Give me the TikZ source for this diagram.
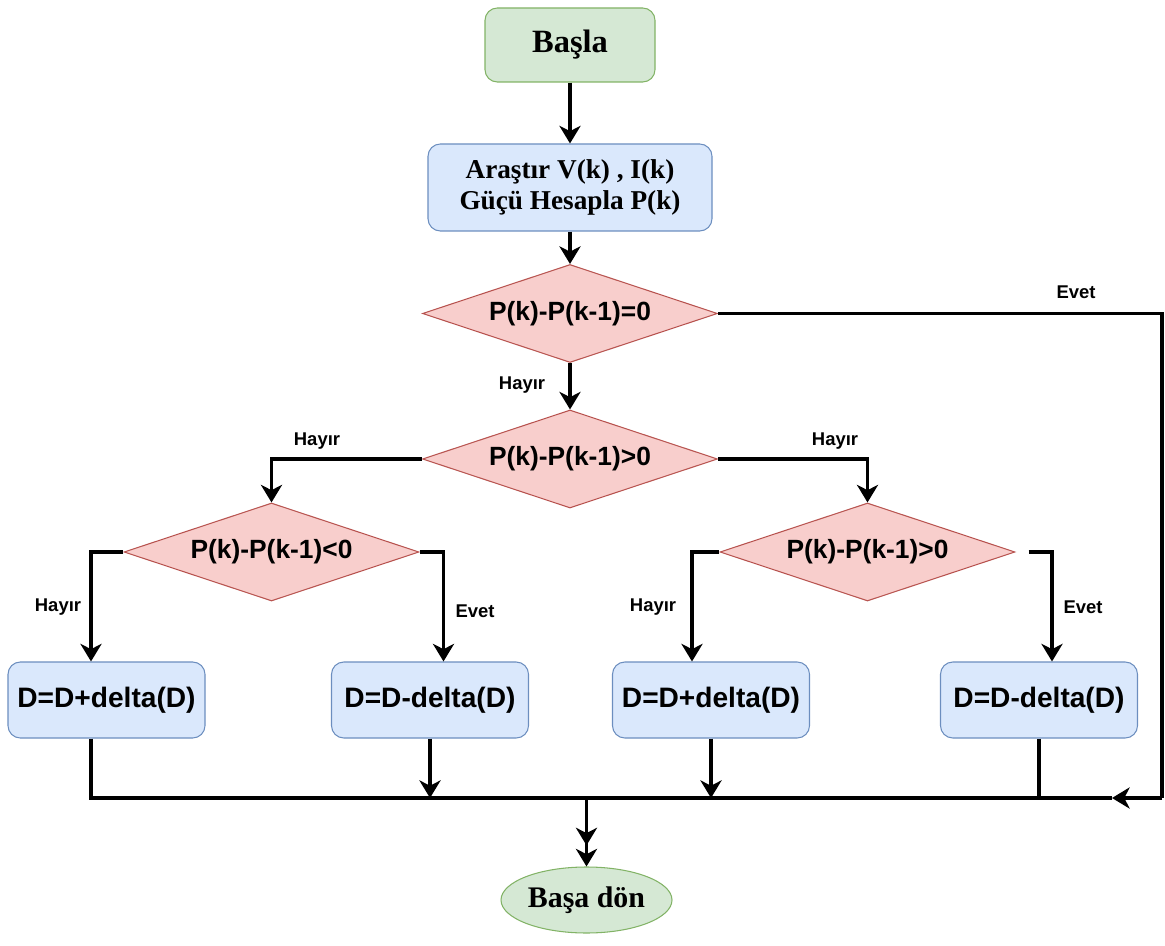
\documentclass[tikz,border=0pt]{standalone}
\usepackage{fontspec}
\setmainfont{Liberation Serif}
\setsansfont{Liberation Sans}
\usetikzlibrary{positioning, shapes.geometric, arrows.meta, calc}
\definecolor{flowGreen}{HTML}{82B366}
\definecolor{flowGreenSoft}{HTML}{D5E8D4}
\definecolor{flowBlue}{HTML}{6C8EBF}
\definecolor{flowBlueSoft}{HTML}{DAE8FC}
\definecolor{flowRed}{HTML}{B85450}
\definecolor{flowRedSoft}{HTML}{F8CECC}

\begin{document}
\begin{tikzpicture}[
    startBox/.style={draw=flowGreen, line width=0.6pt, rectangle, rounded corners=7pt, fill=flowGreenSoft, align=center, font=\bfseries\fontsize{18.5}{21}\selectfont, minimum width=3.4cm, minimum height=1.48cm},
    endOval/.style={draw=flowGreen, line width=0.6pt, ellipse, fill=flowGreenSoft, align=center, font=\bfseries\fontsize{17}{20}\selectfont, minimum width=3.42cm, minimum height=1.32cm, inner sep=0pt},
    calcBox/.style={draw=flowBlue, line width=0.6pt, rectangle, rounded corners=7pt, fill=flowBlueSoft, align=center, font=\bfseries\fontsize{15.5}{18}\selectfont, minimum width=5.68cm, minimum height=1.74cm},
    stepBox/.style={draw=flowBlue, line width=0.6pt, rectangle, rounded corners=7pt, fill=flowBlueSoft, align=center, font=\sffamily\bfseries\fontsize{16}{18}\selectfont, minimum width=3.94cm, minimum height=1.52cm},
    testDiamond/.style={draw=flowRed, line width=0.6pt, diamond, aspect=3, inner sep=0pt, fill=flowRedSoft, align=center, font=\sffamily\bfseries\fontsize{15}{18}\selectfont, minimum width=5.9cm, minimum height=1.96cm},
    branchLbl/.style={font=\sffamily\bfseries\fontsize{10.5}{12}\selectfont, inner sep=1pt},
    flowLine/.style={line width=2pt, draw=black},
    flowArrow/.style={flowLine, -{Stealth[length=10pt, width=12pt, inset=3pt]}},
    flowArrowTwo/.style={flowLine, -{Stealth[length=10pt, width=12pt, inset=3pt, sep=2pt]Stealth[length=10pt, width=12pt, inset=3pt]}},
]
\useasboundingbox (0,0) rectangle (23.3,-18.92);

\node[startBox]    (start)  at (11.4,-0.9)   {Başla};
\node[calcBox]     (calc)   at (11.4,-3.75)  {Araştır V(k) , I(k)\\Güçü Hesapla P(k)};
\node[testDiamond] (testA)  at (11.4,-6.27)  {P(k)-P(k-1)=0};
\node[testDiamond] (testB)  at (11.4,-9.18)  {P(k)-P(k-1)>0};
\node[testDiamond] (testC)  at (5.43,-11.04) {P(k)-P(k-1)<0};
\node[testDiamond] (testD)  at (17.35,-11.04) {P(k)-P(k-1)>0};
\node[stepBox]     (incL)   at (2.13,-14.0)  {D=D+delta(D)};
\node[stepBox]     (decL)   at (8.6,-14.0)   {D=D-delta(D)};
\node[stepBox]     (incR)   at (14.22,-14.0) {D=D+delta(D)};
\node[stepBox]     (decR)   at (20.78,-14.0) {D=D-delta(D)};
\node[endOval]     (finish) at (11.73,-18.0) {Başa dön};

\node[branchLbl] (lblA)    at (10.44,-7.7)  {Hayır};
\node[branchLbl] (lblAyes) at (21.52,-5.84) {Evet};
\node[branchLbl] (lblBl)   at (6.34,-8.82)  {Hayır};
\node[branchLbl] (lblBr)   at (16.7,-8.82)  {Hayır};
\node[branchLbl] (lblCl)   at (1.16,-12.14) {Hayır};
\node[branchLbl] (lblCr)   at (9.5,-12.22)  {Evet};
\node[branchLbl] (lblDl)   at (13.06,-12.14) {Hayır};
\node[branchLbl] (lblDr)   at (21.66,-12.14) {Evet};

\coordinate (colA)   at (1.82,-15.96);
\coordinate (colB)   at (8.87,-15.96);
\coordinate (colC)   at (13.84,-15.96);
\coordinate (colD)   at (21.04,-15.96);
\coordinate (busR)   at (22.24,-15.96);
\coordinate (retTop) at (23.24,-6.27);
\coordinate (retBot) at (23.24,-15.96);

\draw[flowArrow] (start) -- (calc);
\draw[flowArrow] (calc) -- (testA);
\draw[flowArrow] (testA) -- (testB);
\draw[flowLine] (testA.east) -- (retTop) -- (retBot);
\draw[flowArrow] (retBot) -- (busR);
\draw[flowArrow] (testB.west) -| (testC.north);
\draw[flowArrow] (testB.east) -| (testD.north);
\draw[flowArrow] (testC.west) -| (incL.north -| colA);
\draw[flowArrow] (testC.east) -| (decL.north -| colB);
\draw[flowArrow] (testD.west) -| (incR.north -| colC);
\draw[flowArrow, shorten <=0.26cm] (testD.east) -| (decR.north -| colD);
\draw[flowLine] (incL.south -| colA) -- (colA) -- (busR);
\draw[flowArrow] (decL.south) -- (decL.south |- colA);
\draw[flowArrow] (incR.south) -- (incR.south |- colA);
\draw[flowLine] (decR.south) -- (decR.south |- colA);
\draw[flowArrowTwo] (finish.north |- colA) -- (finish.north);
\end{tikzpicture}
\end{document}
